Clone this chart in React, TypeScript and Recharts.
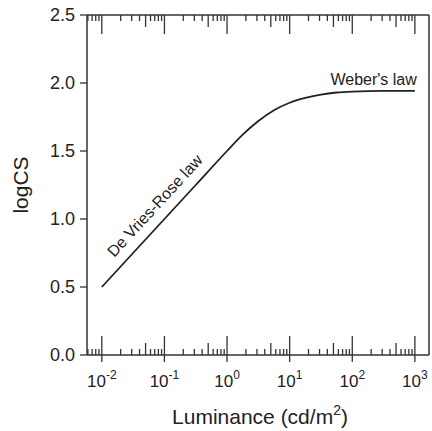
import React from 'react';
import { LineChart, Line, XAxis, YAxis, ReferenceDot } from 'recharts';

const luminance = [0.01, 0.0316, 0.1, 0.316, 1, 1.78, 3.16, 5.62, 10, 17.8, 31.6, 56.2, 100, 316, 1000];
const logCS = [0.5, 0.75, 1.0, 1.25, 1.5, 1.62, 1.72, 1.8, 1.855, 1.89, 1.915, 1.93, 1.937, 1.942, 1.942];

const majorTicks = [0.01, 0.1, 1, 10, 100, 1000];
const exponents = ['-2', '-1', '0', '1', '2', '3'];
const minorTicks = [
  0.006, 0.007, 0.008, 0.009,
  0.02, 0.03, 0.04, 0.05, 0.06, 0.07, 0.08, 0.09,
  0.2, 0.3, 0.4, 0.5, 0.6, 0.7, 0.8, 0.9,
  2, 3, 4, 5, 6, 7, 8, 9,
  20, 30, 40, 50, 60, 70, 80, 90,
  200, 300, 400, 500, 600, 700, 800, 900,
];
const yTicks = [0, 0.5, 1.0, 1.5, 2.0, 2.5];

const xDomain = [0.0058, 1680];
const yDomain = [0, 2.5];

const annotations = [
  { label: 'De Vries-Rose law', x: 0.0158, y: 0.714, angle: -47.4, anchor: 'start' },
  { label: "Weber's law", x: 1072, y: 1.985, angle: 0, anchor: 'end' },
];

const data = luminance.map((L, i) => ({ L, v: logCS[i] }));
const allTicks = [...majorTicks, ...minorTicks].sort((a, b) => a - b);

const FONT = 'Arial, "Liberation Sans", Helvetica, sans-serif';
const INK = '#222';
const AXIS = '#333';

function tickKind(v: number) {
  const lg = Math.log10(v);
  if (Math.abs(lg - Math.round(lg)) < 1e-6) return 'major';
  const m = v / Math.pow(10, Math.floor(lg + 1e-9));
  if (Math.abs(m - 5) < 1e-6) return 'mid';
  return 'minor';
}

const BottomTick = (props: any) => {
  const { x, y, payload } = props;
  const v = payload.value;
  const kind = tickKind(v);
  const len = kind === 'major' ? 19 : kind === 'mid' ? 12 : 6;
  const idx = majorTicks.findIndex((m) => Math.abs(m - v) / m < 1e-6);
  return (
    <g>
      <line x1={x} x2={x} y1={y - len} y2={y + (kind === 'major' ? 7 : 0)} stroke={AXIS} strokeWidth={1.3} />
      {idx >= 0 && (
        <text x={x} y={y + 32} textAnchor="middle" fontFamily={FONT} fontSize={17} fill={INK}>
          10
          <tspan dy={-8} fontSize={12}>{exponents[idx]}</tspan>
        </text>
      )}
    </g>
  );
};

const TopTick = (props: any) => {
  const { x, y, payload } = props;
  const kind = tickKind(payload.value);
  const len = kind === 'major' ? 19 : kind === 'mid' ? 12 : 6;
  return <line x1={x} x2={x} y1={y} y2={y + len} stroke={AXIS} strokeWidth={1.3} />;
};

const XTitle = (props: any) => {
  const vb = props.viewBox || {};
  const cx = vb.x + vb.width / 2 + 2;
  const y = vb.y + 69;
  return (
    <text x={cx} y={y} textAnchor="middle" fontFamily={FONT} fontSize={21} fill={INK}>
      Luminance (cd/m
      <tspan dy={-9} fontSize={14}>2</tspan>
      <tspan dy={9}>)</tspan>
    </text>
  );
};

const YTitle = (props: any) => {
  const vb = props.viewBox || {};
  const x = vb.x + 20;
  const y = vb.y + vb.height / 2;
  return (
    <text
      x={x}
      y={y}
      textAnchor="middle"
      dominantBaseline="central"
      transform={`rotate(-90 ${x} ${y})`}
      fontFamily={FONT}
      fontSize={21}
      fill={INK}
    >
      logCS
    </text>
  );
};

const makeAnnot = (a: any) => (props: any) => {
  const { cx, cy } = props;
  return (
    <text
      x={cx}
      y={cy}
      textAnchor={a.anchor}
      transform={a.angle ? `rotate(${a.angle} ${cx} ${cy})` : undefined}
      fontFamily={FONT}
      fontSize={16}
      fill={INK}
    >
      {a.label}
    </text>
  );
};

export default function App() {
  return (
    <div style={{ position: 'absolute', left: 0, top: 0, background: '#fff' }}>
      <LineChart width={432} height={431} data={data} margin={{ top: 14, right: 2, bottom: 0, left: 0 }}>
        <XAxis
          xAxisId="bottom"
          dataKey="L"
          type="number"
          scale="log"
          domain={xDomain}
          allowDataOverflow
          ticks={allTicks}
          interval={0}
          tickSize={0}
          tickMargin={0}
          tickLine={false}
          tick={<BottomTick />}
          height={76}
          axisLine={{ stroke: AXIS, strokeWidth: 1.5 }}
          label={XTitle}
        />
        <XAxis
          xAxisId="top"
          orientation="top"
          dataKey="L"
          type="number"
          scale="log"
          domain={xDomain}
          allowDataOverflow
          ticks={allTicks}
          interval={0}
          tickSize={0}
          tickMargin={0}
          tickLine={false}
          tick={<TopTick />}
          height={1}
          axisLine={{ stroke: AXIS, strokeWidth: 1.5 }}
        />
        <YAxis
          yAxisId="left"
          type="number"
          domain={yDomain}
          ticks={yTicks}
          interval={0}
          width={87}
          tickSize={7}
          tickMargin={5}
          tickFormatter={(v: number) => v.toFixed(1)}
          tick={{ fontFamily: FONT, fontSize: 18, fill: INK }}
          tickLine={{ stroke: AXIS, strokeWidth: 1.3 }}
          axisLine={{ stroke: AXIS, strokeWidth: 1.5 }}
          label={YTitle}
        />
        <YAxis
          yAxisId="right"
          orientation="right"
          type="number"
          domain={yDomain}
          width={1}
          tick={false}
          tickLine={false}
          axisLine={{ stroke: AXIS, strokeWidth: 1.5 }}
        />
        <Line
          xAxisId="bottom"
          yAxisId="left"
          dataKey="v"
          type="monotone"
          stroke={INK}
          strokeWidth={1.8}
          dot={false}
          isAnimationActive={false}
        />
        {annotations.map((a) => (
          <ReferenceDot
            key={a.label}
            xAxisId="bottom"
            yAxisId="left"
            x={a.x}
            y={a.y}
            r={0}
            ifOverflow="visible"
            shape={makeAnnot(a)}
          />
        ))}
      </LineChart>
    </div>
  );
}
